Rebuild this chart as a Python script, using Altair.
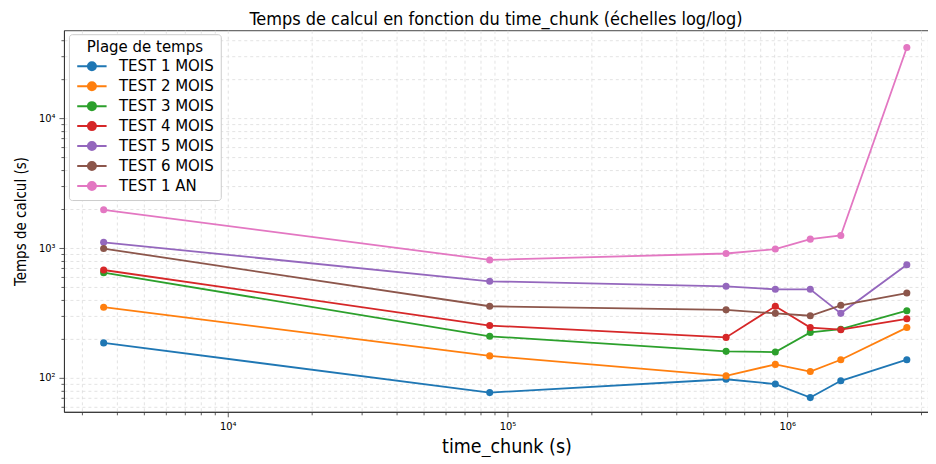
import altair as alt
import pandas as pd

# ---- data ----
time_chunk = [3600, 86400, 604800, 907200, 1209600, 1555200, 2678400]
series_names = ["TEST 1 MOIS", "TEST 2 MOIS", "TEST 3 MOIS", "TEST 4 MOIS",
                "TEST 5 MOIS", "TEST 6 MOIS", "TEST 1 AN"]
test_1_mois = [186, 77, 97.6, 89.6, 70.5, 95, 138]
test_2_mois = [350, 147.7, 103.6, 127, 111.8, 138, 244]
test_3_mois = [646, 209, 160, 158, 224, 237, 329]
test_4_mois = [677, 253, 205, 356, 244, 235, 285]
test_5_mois = [1107, 554, 507, 481, 481, 314, 744]
test_6_mois = [990, 356, 334, 314, 301, 362, 450]
test_1_an = [1970, 809, 907, 981, 1170, 1250, 35000]
colors = ["#1f77b4", "#ff7f0e", "#2ca02c", "#d62728", "#9467bd", "#8c564b", "#e377c2"]

x_ticks = [3000, 4000, 5000, 6000, 7000, 8000, 9000,
           10000, 20000, 30000, 40000, 50000, 60000, 70000, 80000, 90000,
           100000, 200000, 300000, 400000, 500000, 600000, 700000, 800000, 900000,
           1000000, 2000000, 3000000]
y_ticks = [60, 70, 80, 90, 100, 200, 300, 400, 500, 600, 700, 800, 900,
           1000, 2000, 3000, 4000, 5000, 6000, 7000, 8000, 9000,
           10000, 20000, 30000, 40000]

all_series = [test_1_mois, test_2_mois, test_3_mois, test_4_mois,
              test_5_mois, test_6_mois, test_1_an]
rows = []
for name, vals in zip(series_names, all_series):
    for i, (x, y) in enumerate(zip(time_chunk, vals)):
        rows.append({"series": name, "time_chunk": x, "temps": y, "idx": i})
df = pd.DataFrame(rows)

COND = "DejaVu Sans Condensed, Liberation Sans Narrow, DejaVu Sans"
BASE = "DejaVu Sans"

xscale = alt.Scale(type="log", domain=[2596, 3188000], nice=False)
yscale = alt.Scale(type="log", domain=[54.8, 47530], nice=False)

x_major = "indexof([10000,100000,1000000], datum.value) >= 0"
y_major = "indexof([100,1000,10000], datum.value) >= 0"

x_axis = alt.Axis(
    values=x_ticks,
    labelExpr="datum.value == 10000 ? '10⁴' : datum.value == 100000 ? '10⁵' : datum.value == 1000000 ? '10⁶' : ''",
    labelOverlap=False, labelFlush=False,
    grid=True, gridColor="#dcdcdc", gridDash=[3, 3], gridWidth=0.8,
    tickColor="#333333", domainColor="#333333", tickWidth=0.8,
    tickSize={"condition": {"test": x_major, "value": 5}, "value": 3},
    labelFont=COND, labelFontSize=11, labelColor="#000000", labelPadding=4,
    title="time_chunk (s)", titleFont=COND, titleFontSize=19.5,
    titleFontWeight="normal", titleColor="#000000", titlePadding=6,
    titleX=443,
)
y_axis = alt.Axis(
    values=y_ticks,
    labelExpr="datum.value == 100 ? '10²' : datum.value == 1000 ? '10³' : datum.value == 10000 ? '10⁴' : ''",
    labelOverlap=False, labelFlush=False,
    grid=True, gridColor="#dcdcdc", gridDash=[3, 3], gridWidth=0.8,
    tickColor="#333333", domainColor="#333333", tickWidth=0.8,
    tickSize={"condition": {"test": y_major, "value": 5}, "value": 3},
    labelFont=COND, labelFontSize=11, labelColor="#000000", labelPadding=4,
    title="Temps de calcul (s)", titleFont=COND, titleFontSize=15,
    titleFontWeight="normal", titleColor="#000000", titlePadding=10,
)

sym_path = "M-2.1,0H2.1M0.571,0A0.571,0.571,0,1,1,-0.571,0A0.571,0.571,0,1,1,0.571,0Z"
legend = alt.Legend(
    title="Plage de temps", orient="none", legendX=5, legendY=4,
    fillColor="white", strokeColor="#cccccc", padding=6, cornerRadius=3,
    titleFont=BASE, titleFontSize=15, titleFontWeight="normal", titleColor="#000000",
    titleAnchor="middle", titlePadding=3,
    labelFont=BASE, labelFontSize=15, labelColor="#000000",
    symbolType=sym_path, symbolSize=196, symbolStrokeWidth=2,
    symbolOffset=9, labelOffset=19, rowPadding=4,
)

base = alt.Chart(df)
lines = base.mark_line(strokeWidth=1.8).encode(
    x=alt.X("time_chunk:Q", scale=xscale, axis=x_axis),
    y=alt.Y("temps:Q", scale=yscale, axis=y_axis),
    color=alt.Color("series:N", sort=series_names,
                    scale=alt.Scale(domain=series_names, range=colors), legend=legend),
    order="idx:O",
)
points = base.mark_circle(size=50, opacity=1).encode(
    x=alt.X("time_chunk:Q", scale=xscale),
    y=alt.Y("temps:Q", scale=yscale),
    fill=alt.Fill("series:N", sort=series_names,
                  scale=alt.Scale(domain=series_names, range=colors), legend=legend),
)

chart = alt.layer(lines, points).properties(
    width=865, height=382,
    padding={"left": 5, "top": 3, "right": 0, "bottom": 0},
    title=alt.TitleParams(
        "Temps de calcul en fonction du time_chunk (échelles log/log)",
        font=COND, fontSize=18, fontWeight="normal", color="#000000", offset=1,
    ),
).configure_view(stroke="#444444", strokeWidth=1)

chart.save("out.html", embed_options={"renderer": "svg", "actions": False})
